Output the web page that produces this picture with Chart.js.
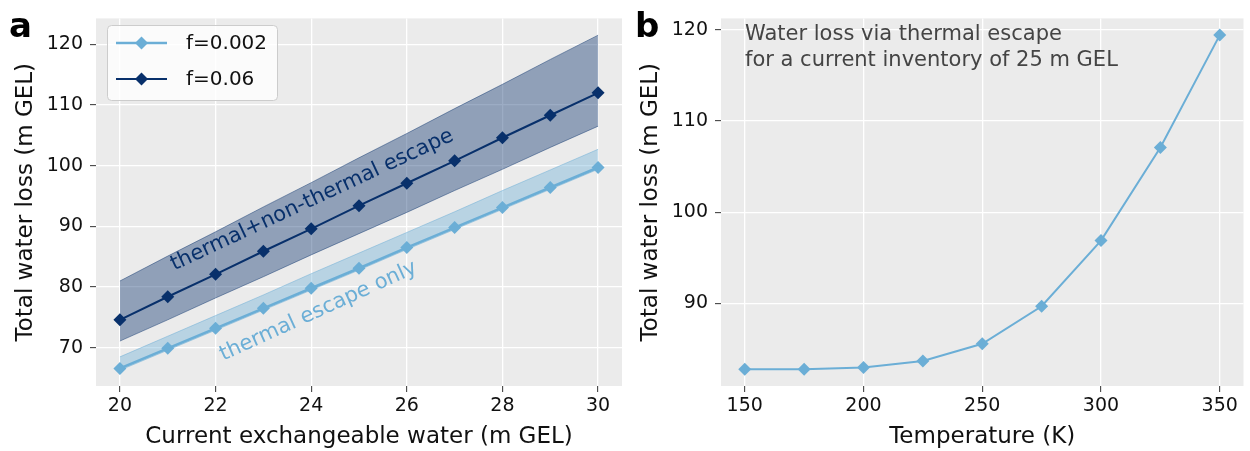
<!DOCTYPE html>
<html>
<head>
<meta charset="utf-8">
<script src="https://cdn.jsdelivr.net/npm/chart.js"></script>
<style>
  body { margin: 0; background: #fff; }
  #wrapA { position: absolute; left: 0; top: 0; }
  #wrapB { position: absolute; left: 630px; top: 0; }
</style>
</head>
<body>
<div id="wrapA"><canvas id="chartA" width="630" height="451"></canvas></div>
<div id="wrapB"><canvas id="chartB" width="620" height="451"></canvas></div>
<script>
// ---- panel a data ----
const exchWater = [20, 21, 22, 23, 24, 25, 26, 27, 28, 29, 30];
const lossF002 = [66.6, 69.9, 73.2, 76.5, 79.8, 83.1, 86.5, 89.8, 93.1, 96.4, 99.7];
const lossF06 = [74.6, 78.4, 82.1, 85.9, 89.6, 93.4, 97.1, 100.8, 104.6, 108.3, 112.0];
const bandF002Min = [66.3, 69.6, 72.9, 76.2, 79.5, 82.8, 86.2, 89.5, 92.8, 96.1, 99.4];
const bandF002Max = [68.5, 71.9, 75.3, 78.7, 82.2, 85.6, 89.0, 92.4, 95.9, 99.3, 102.7];
const bandF06Min = [71.1, 74.6, 78.2, 81.7, 85.3, 88.8, 92.3, 95.9, 99.4, 103.0, 106.5];
const bandF06Max = [81.0, 85.1, 89.1, 93.2, 97.2, 101.3, 105.3, 109.4, 113.4, 117.5, 121.5];
const xTicksA = [20, 22, 24, 26, 28, 30];
const yTicksA = [70, 80, 90, 100, 110, 120];

// ---- panel b data ----
const temperature = [150, 175, 200, 225, 250, 275, 300, 325, 350];
const lossTemp = [82.8, 82.8, 83.0, 83.7, 85.6, 89.7, 96.9, 107.1, 119.4];
const xTicksB = [150, 200, 250, 300, 350];
const yTicksB = [90, 100, 110, 120];

const LIGHT = '#6baed6';
const DARK = '#08306b';
const FONT = '"DejaVu Sans"';

Chart.defaults.font.family = FONT;
Chart.defaults.color = '#111';

const pts = (xs, ys) => xs.map((x, i) => ({ x: x, y: ys[i] }));

// grey plot background
const panelBg = {
  id: 'panelBg',
  beforeDraw(chart) {
    const { ctx, chartArea: a } = chart;
    ctx.save();
    ctx.fillStyle = '#ebebeb';
    ctx.fillRect(a.left, a.top, a.right - a.left, a.bottom - a.top);
    ctx.restore();
  }
};

function axis(min, max, ticks, title, horizontal, o) {
  return {
    type: 'linear',
    min: min,
    max: max,
    afterBuildTicks: s => { s.ticks = ticks.map(v => ({ value: v })); },
    afterFit: s => { if (horizontal) s.height = o.size; else s.width = o.size; },
    grid: { color: '#ffffff', lineWidth: 1.3, tickColor: '#333', tickLength: 6, tickWidth: 1 },
    border: { display: false },
    ticks: { font: { size: 19 }, color: '#111', padding: o.pad, maxRotation: 0 },
    title: { display: true, text: title, font: { size: 23 }, color: '#111', padding: o.titlePad }
  };
}

function diamondLine(label, data, color, width) {
  return {
    label: label, data: data, borderColor: color, backgroundColor: color,
    borderWidth: width, pointStyle: 'rectRot', pointRadius: 6.5, pointBorderWidth: 0,
    fill: false, tension: 0
  };
}

function bandEdge(data, fillColor, edgeColor, fillTarget) {
  return {
    data: data, borderColor: edgeColor, borderWidth: 1, pointRadius: 0,
    backgroundColor: fillColor, fill: fillTarget, tension: 0
  };
}

// annotations, legend and panel letter for panel a
const decorA = {
  id: 'decorA',
  afterDatasetsDraw(chart) {
    const { ctx, scales: { x, y } } = chart;
    ctx.save();
    ctx.textAlign = 'center';
    ctx.textBaseline = 'middle';
    ctx.font = '21px ' + FONT;
    ctx.fillStyle = DARK;
    ctx.translate(x.getPixelForValue(24.02), y.getPixelForValue(94.3));
    ctx.rotate(-25 * Math.PI / 180);
    ctx.fillText('thermal+non-thermal escape', 0, 0);
    ctx.restore();

    ctx.save();
    ctx.textAlign = 'center';
    ctx.textBaseline = 'middle';
    ctx.font = '21px ' + FONT;
    ctx.fillStyle = LIGHT;
    ctx.translate(x.getPixelForValue(24.15), y.getPixelForValue(76.0));
    ctx.rotate(-24.5 * Math.PI / 180);
    ctx.fillText('thermal escape only', 0, 0);
    ctx.restore();
  },
  afterDraw(chart) {
    const ctx = chart.ctx;
    // legend box
    ctx.save();
    ctx.fillStyle = 'rgba(255,255,255,0.8)';
    ctx.strokeStyle = '#cccccc';
    ctx.lineWidth = 1;
    ctx.beginPath();
    ctx.roundRect(107.5, 25.5, 170, 75, 4);
    ctx.fill();
    ctx.stroke();
    const entries = [['f=0.002', LIGHT, 2.5, 43], ['f=0.06', DARK, 2, 79]];
    entries.forEach(([txt, col, w, yy]) => {
      ctx.strokeStyle = col;
      ctx.lineWidth = w;
      ctx.beginPath();
      ctx.moveTo(116, yy);
      ctx.lineTo(167, yy);
      ctx.stroke();
      ctx.fillStyle = col;
      ctx.beginPath();
      ctx.moveTo(141.5, yy - 6.5);
      ctx.lineTo(148, yy);
      ctx.lineTo(141.5, yy + 6.5);
      ctx.lineTo(135, yy);
      ctx.closePath();
      ctx.fill();
      ctx.fillStyle = '#111';
      ctx.font = '20px ' + FONT;
      ctx.textBaseline = 'middle';
      ctx.textAlign = 'left';
      ctx.fillText(txt, 186, yy + 1);
    });
    ctx.font = 'bold 34px ' + FONT;
    ctx.fillStyle = '#000';
    ctx.textBaseline = 'alphabetic';
    ctx.fillText('a', 9, 37);
    ctx.restore();
  }
};

const decorB = {
  id: 'decorB',
  afterDraw(chart) {
    const ctx = chart.ctx;
    ctx.save();
    ctx.font = '21px ' + FONT;
    ctx.fillStyle = '#444';
    ctx.textAlign = 'left';
    ctx.textBaseline = 'alphabetic';
    ctx.fillText('Water loss via thermal escape', 115, 40);
    ctx.fillText('for a current inventory of 25 m GEL', 115, 66);
    ctx.font = 'bold 34px ' + FONT;
    ctx.fillStyle = '#000';
    ctx.fillText('b', 5, 37);
    ctx.restore();
  }
};

new Chart(document.getElementById('chartA'), {
  type: 'line',
  data: {
    datasets: [
      diamondLine('f=0.002', pts(exchWater, lossF002), LIGHT, 2.5),
      diamondLine('f=0.06', pts(exchWater, lossF06), DARK, 2),
      bandEdge(pts(exchWater, bandF002Min), 'rgba(0,0,0,0)', 'rgba(107,174,214,0.5)', false),
      bandEdge(pts(exchWater, bandF002Max), 'rgba(107,174,214,0.4)', 'rgba(107,174,214,0.5)', '-1'),
      bandEdge(pts(exchWater, bandF06Min), 'rgba(0,0,0,0)', 'rgba(8,48,107,0.45)', false),
      bandEdge(pts(exchWater, bandF06Max), 'rgba(8,48,107,0.4)', 'rgba(8,48,107,0.45)', '-1')
    ]
  },
  options: {
    responsive: false,
    animation: false,
    devicePixelRatio: 1,
    layout: { padding: { top: 12, right: 8, left: 0, bottom: 0 } },
    plugins: { legend: { display: false }, tooltip: { enabled: false } },
    scales: {
      x: axis(19.5, 30.5, xTicksA, 'Current exchangeable water (m GEL)', true, { size: 65, pad: 3, titlePad: { top: 0, bottom: 0 } }),
      y: axis(63.7, 124.26, yTicksA, 'Total water loss (m GEL)', false, { size: 96, pad: 7, titlePad: { top: 12, bottom: 0 } })
    }
  },
  plugins: [panelBg, decorA]
});

new Chart(document.getElementById('chartB'), {
  type: 'line',
  data: {
    datasets: [diamondLine('thermal', pts(temperature, lossTemp), LIGHT, 2)]
  },
  options: {
    responsive: false,
    animation: false,
    devicePixelRatio: 1,
    layout: { padding: { top: 12, right: 4, left: 0, bottom: 0 } },
    plugins: { legend: { display: false }, tooltip: { enabled: false } },
    scales: {
      x: axis(140, 360, xTicksB, 'Temperature (K)', true, { size: 65, pad: 3, titlePad: { top: 0, bottom: 0 } }),
      y: axis(80.97, 121.23, yTicksB, 'Total water loss (m GEL)', false, { size: 91, pad: 7, titlePad: { top: 7, bottom: 0 } })
    }
  },
  plugins: [panelBg, decorB]
});
</script>
</body>
</html>
